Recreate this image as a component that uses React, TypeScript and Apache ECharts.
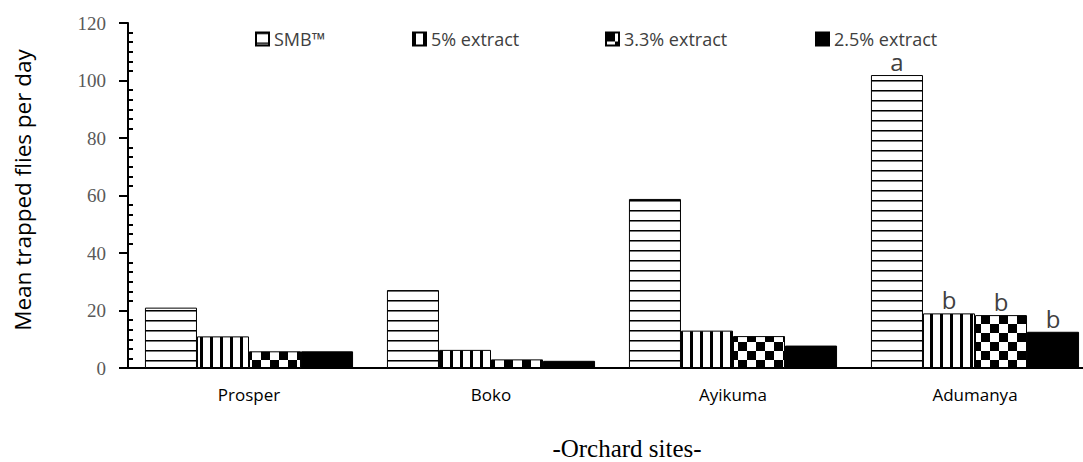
import React, { useEffect, useRef } from "react";
import * as echarts from "echarts";

const categories = ["Prosper", "Boko", "Ayikuma", "Adumanya"];
const seriesNames = ["SMB™", "5% extract", "3.3% extract", "2.5% extract"];
const smbValues = [21, 27.1, 58.8, 101.9];
const ext5Values = [11, 6.3, 13, 19];
const ext33Values = [5.8, 3, 11.1, 18.4];
const ext25Values = [5.8, 2.5, 7.8, 12.6];
const letterLabels = [
  ["", "", "", "a"],
  ["", "", "", "b"],
  ["", "", "", "b"],
  ["", "", "", "b"],
];
const yMin = 0;
const yMax = 120;
const yInterval = 20;

const SANS = "'Open Sans', Lato, sans-serif";
const SERIF = "'Liberation Serif', 'DejaVu Serif', serif";

function makePattern(kind: string) {
  let w = 10;
  let h = 10;
  if (kind === "checker") {
    w = 18;
    h = 18;
  }
  const c = document.createElement("canvas");
  c.width = w;
  c.height = h;
  const ctx = c.getContext("2d")!;
  ctx.fillStyle = "#fff";
  ctx.fillRect(0, 0, w, h);
  ctx.fillStyle = "#000";
  if (kind === "h") {
    ctx.fillRect(0, 0, w, 1);
    ctx.fillStyle = "#777";
    ctx.fillRect(0, 1, w, 1);
  } else if (kind === "v") {
    ctx.fillRect(0, 0, 3, h);
  } else if (kind === "checker") {
    ctx.fillRect(0, 0, 9, 9);
    ctx.fillRect(9, 9, 9, 9);
  } else {
    ctx.fillRect(0, 0, w, h);
  }
  return { image: c.toDataURL(), repeat: "repeat", imageWidth: w, imageHeight: h };
}

export default function App() {
  const ref = useRef<HTMLDivElement>(null);
  useEffect(() => {
    if (!ref.current) return;
    const chart = echarts.init(ref.current, null, { renderer: "svg" });
    const patterns = [makePattern("h"), makePattern("v"), makePattern("checker"), makePattern("solid")];
    const values = [smbValues, ext5Values, ext33Values, ext25Values];
    const legendLefts = [255, 412, 605, 815];
    const option: any = {
      animation: false,
      backgroundColor: "#fff",
      legend: seriesNames.map((n, i) => ({
        data: [n],
        left: legendLefts[i],
        top: 30,
        padding: 0,
        icon: "rect",
        itemWidth: 13,
        itemHeight: 13,
        selectedMode: false,
        textStyle: { fontFamily: SANS, fontSize: 18, lineHeight: 18, color: "#404040" },
      })),
      grid: { left: 128, top: 23, width: 968, bottom: 94, containLabel: false },
      xAxis: {
        type: "category",
        data: categories,
        axisLine: { show: true, lineStyle: { color: "#000", width: 2 } },
        axisTick: { show: false },
        axisLabel: { fontFamily: SANS, fontSize: 17, color: "#000", margin: 18 },
      },
      yAxis: [
        {
          type: "value",
          min: yMin,
          max: yMax,
          interval: yInterval,
          position: "left",
          splitLine: { show: false },
          axisLine: { show: true, lineStyle: { color: "#000", width: 2 } },
          axisTick: { show: true, inside: false, length: 9, lineStyle: { color: "#000", width: 2 } },
          axisLabel: { fontFamily: SERIF, fontSize: 19, color: "#595959", margin: 22 },
        },
        {
          type: "value",
          min: yMin,
          max: yMax,
          interval: yInterval,
          position: "left",
          offset: 0,
          splitLine: { show: false },
          axisLine: { show: false },
          axisLabel: { show: false },
          axisTick: { show: false, inside: true },
          minorTick: { show: true, splitNumber: 6, length: 5, lineStyle: { color: "#000", width: 2 } },
          minorSplitLine: { show: false },
        },
      ],
      series: seriesNames.map((n, i) => ({
        name: n,
        type: "bar",
        yAxisIndex: 0,
        data: values[i],
        barGap: "0%",
        barCategoryGap: "14%",
        itemStyle: { color: patterns[i], borderColor: "#000", borderWidth: 1 },
        label: {
          show: true,
          position: "top",
          distance: 1,
          fontFamily: SANS,
          fontSize: 24,
          lineHeight: 25,
          color: "#404040",
          formatter: (p: any) => letterLabels[i][p.dataIndex],
        },
      })),
      graphic: [
        {
          type: "text",
          x: 22,
          y: 190,
          rotation: Math.PI / 2,
          style: {
            text: "Mean trapped flies per day",
            fontFamily: SANS,
            fontSize: 22.5,
            fill: "#000",
            align: "center",
            verticalAlign: "middle",
          },
        },
        {
          type: "text",
          x: 627,
          y: 448,
          style: {
            text: "-Orchard sites-",
            fontFamily: SERIF,
            fontSize: 25,
            lineHeight: 25,
            fill: "#000",
            align: "center",
            verticalAlign: "middle",
          },
        },
      ],
    };
    chart.setOption(option);
    return () => chart.dispose();
  }, []);
  return (
    <div style={{ position: "absolute", left: 0, top: 0, width: 1083, height: 462, overflow: "hidden" }}>
      <div ref={ref} style={{ width: 1100, height: 462 }} />
    </div>
  );
}
